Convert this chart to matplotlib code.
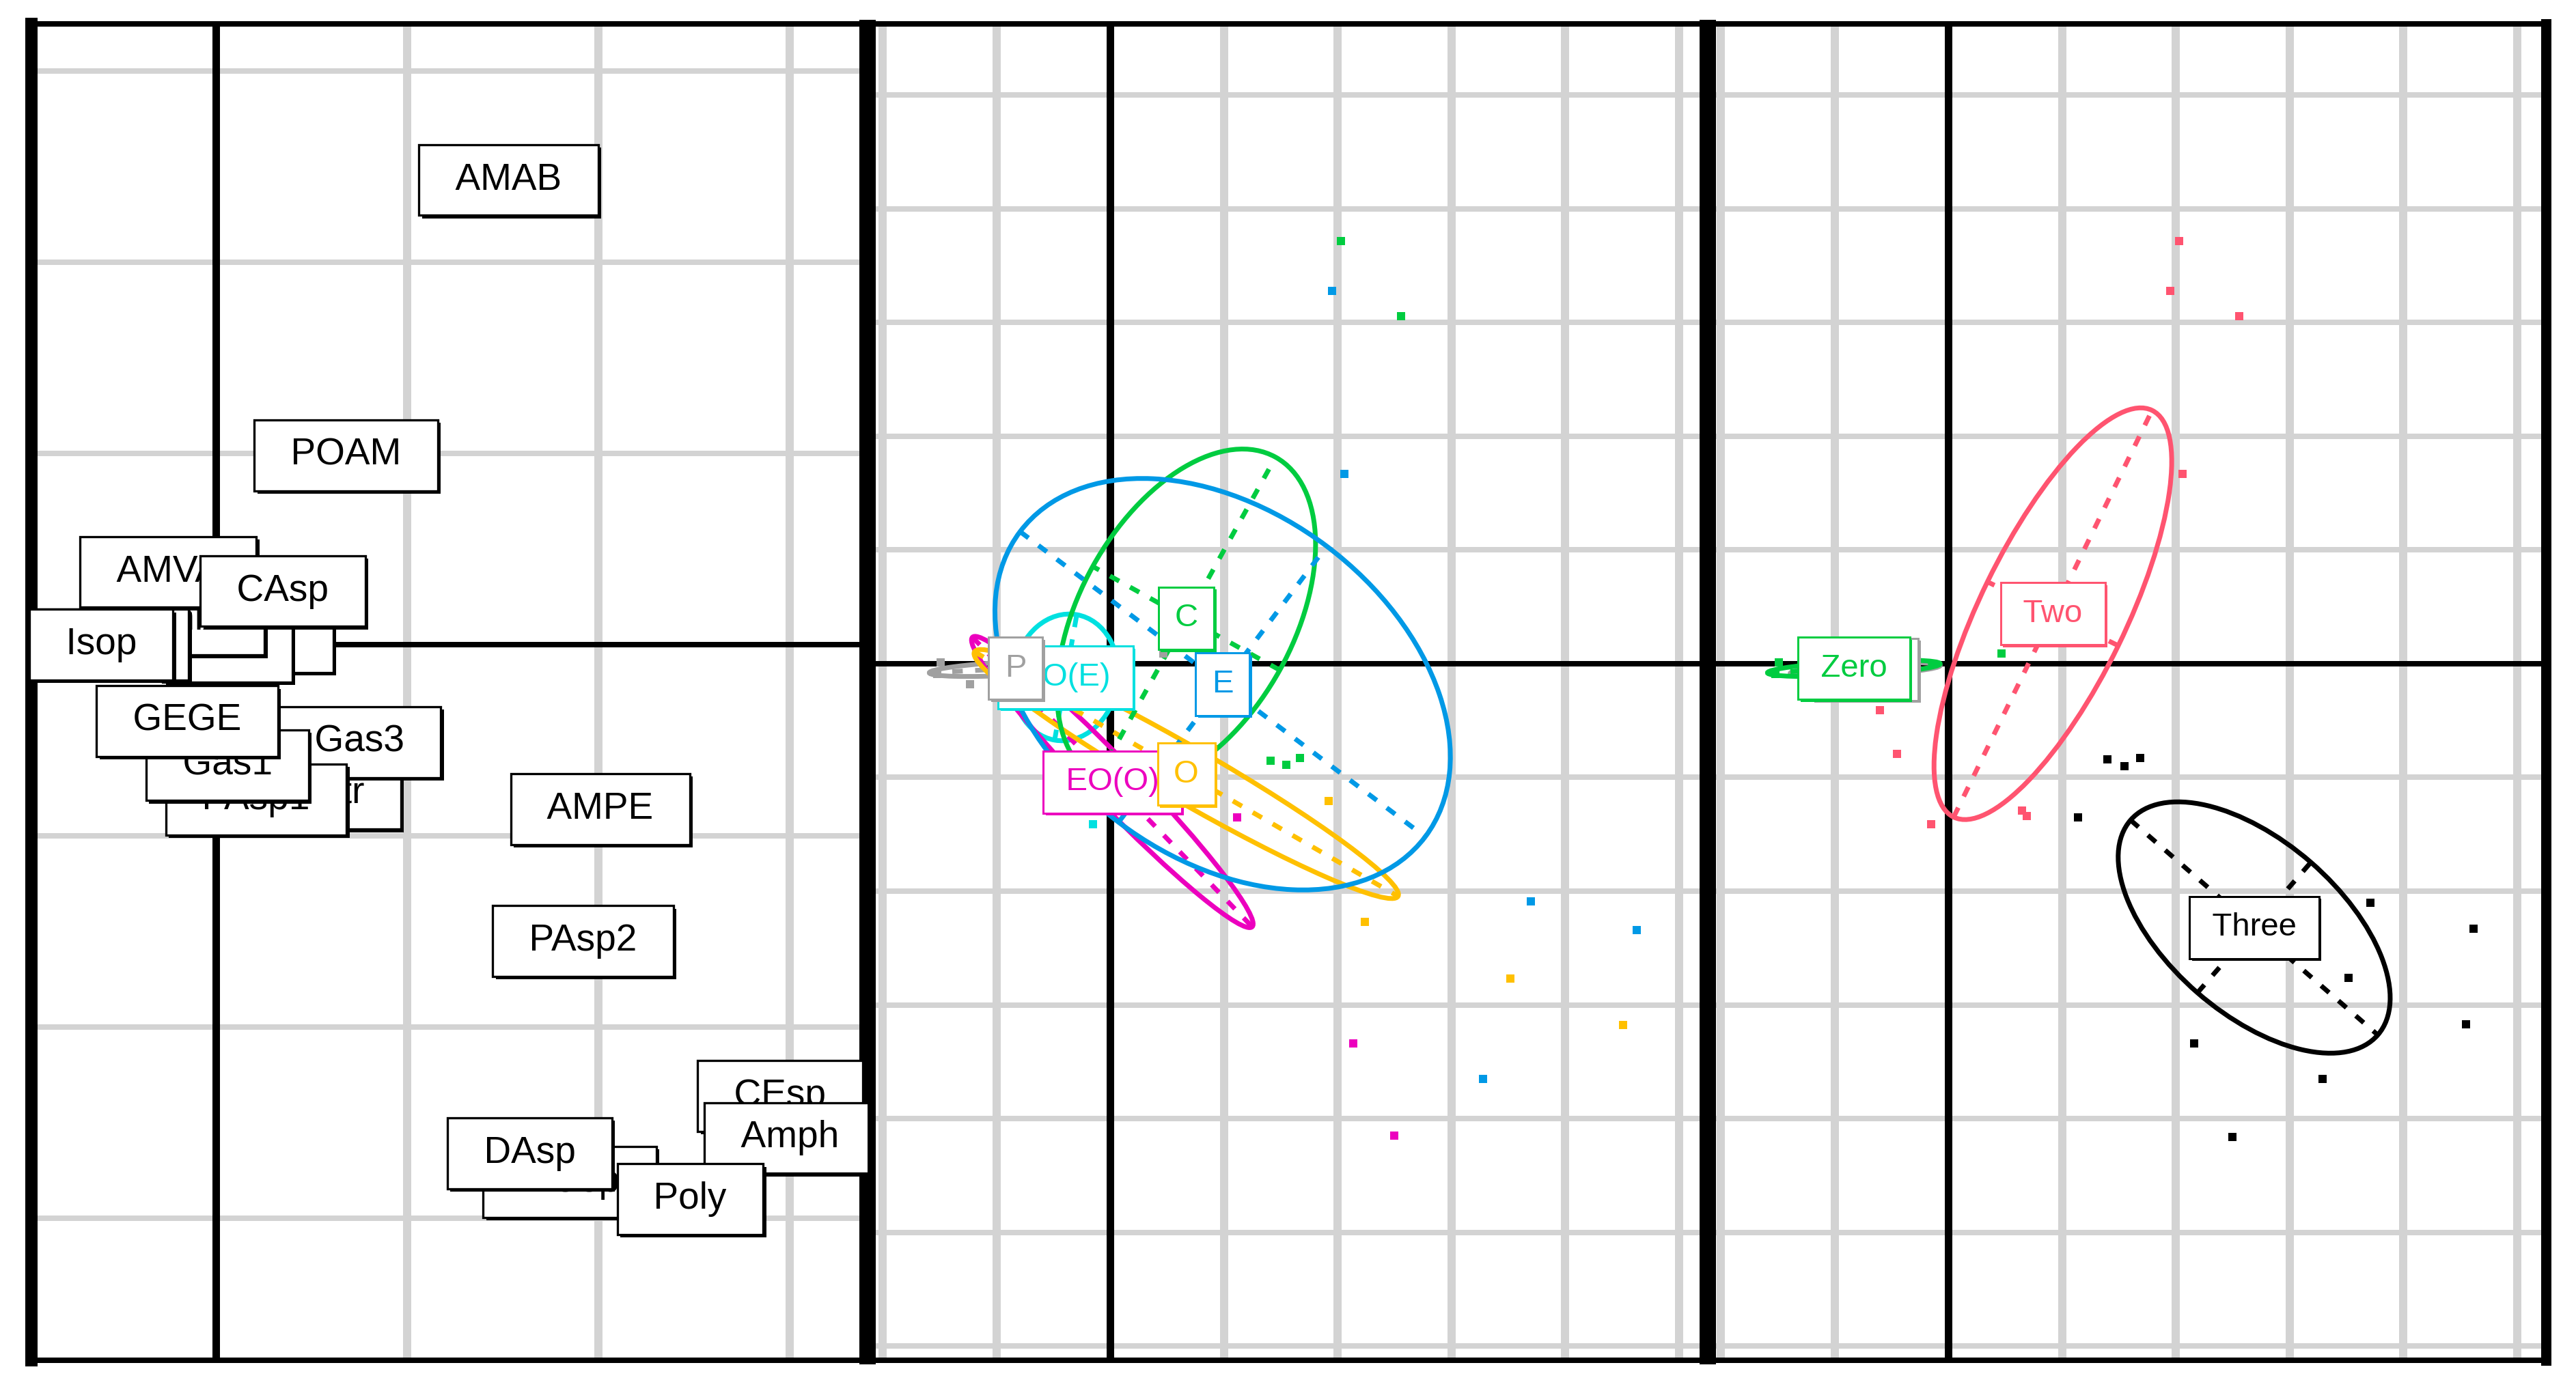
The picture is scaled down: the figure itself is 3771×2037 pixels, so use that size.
import numpy as np
import matplotlib.pyplot as plt
import matplotlib.patheffects as pe
from matplotlib.patches import Ellipse

plt.rcParams['font.family'] = ['Liberation Sans', 'DejaVu Sans']

# ---- left panel: taxa scores (drawing order, last on top) ----
taxa = ['Bival', 'Ant', 'ChiA', 'Hydr', 'AMVA', 'Isop', 'CAsp', 'POAM', 'AMAB',
        'Ostr', 'Gas3', 'PAsp1', 'Gas1', 'GEGE', 'AMPE', 'PAsp2',
        'MOsp', 'DAsp', 'CEsp', 'Amph', 'Poly']
taxa_x = [0.21, 0.06, -0.15, -0.54, -0.25, -0.60, 0.35, 0.68, 1.53,
          0.59, 0.75, 0.21, 0.06, -0.15, 2.01, 1.92,
          1.85, 1.64, 2.95, 3.00, 2.48]
taxa_y = [0.04, -0.01, 0.13, 0.00, 0.38, 0.00, 0.28, 0.99, 2.43,
          -0.78, -0.51, -0.81, -0.63, -0.40, -0.86, -1.55,
          -2.81, -2.66, -2.36, -2.58, -2.90]

# ---- middle panel: diet classes (drawing order) ----
diet = ['EO(E)', 'P', 'EO(O)', 'O', 'C', 'E']
diet_col = ['#00E0E0', '#A0A0A0', '#EC00BE', '#FFC000', '#00CC40', '#0099E6']
diet_x = [-0.39, -0.83, 0.02, 0.67, 0.67, 0.99]
diet_y = [-0.12, -0.04, -1.04, -0.97, 0.40, -0.18]
diet_a = [0.56, 0.76, 1.77, 2.15, 1.62, 2.23]
diet_b = [0.46, 0.06, 0.20, 0.24, 0.94, 1.52]
diet_ang = [80, 3, -46, -30, 61, -37]

p2_x = [2.03, 2.56, 1.41, 1.55, 1.67,
        1.95, 2.06, 3.70, 4.63, 3.28,
        1.92, 2.24, 3.52, 4.51,
        1.12, 2.14, 2.50,
        -0.15, 0.88,
        0.47, -1.52, -1.49, -1.23]
p2_y = [3.72, 3.06, -0.85, -0.89, -0.83,
        3.28, 1.67, -2.09, -2.34, -3.65,
        -1.21, -2.27, -2.77, -3.18,
        -1.35, -3.34, -4.15,
        -1.41, 0.58,
        0.09, -0.09, 0.01, -0.18]
p2_grp = ['C', 'C', 'C', 'C', 'C',
          'E', 'E', 'E', 'E', 'E',
          'O', 'O', 'O', 'O',
          'EO(O)', 'EO(O)', 'EO(O)',
          'EO(E)', 'EO(E)',
          'P', 'P', 'P', 'P']

# ---- right panel: rank classes ----
rank = ['One', 'Zero', 'Two', 'Three']
rank_col = ['#A0A0A0', '#00CC40', '#FF5470', '#000000']
rank_x = [-0.73, -0.83, 0.92, 2.69]
rank_y = [-0.05, -0.04, 0.44, -2.32]
rank_a = [0.66, 0.76, 1.99, 1.44]
rank_b = [0.05, 0.06, 0.64, 0.76]
rank_ang = [3, 3, 64, -41]

p3_x = [0.47, -1.52, -1.49, -1.23,
        2.03, 1.95, 2.56, 2.06, -0.60, -0.45, -0.15, 0.65, 0.69,
        1.40, 1.55, 1.69, 1.14, 3.71, 4.62, 3.52, 4.55, 2.16, 3.29, 2.50]
p3_y = [0.09, -0.09, 0.01, -0.18,
        3.72, 3.28, 3.06, 1.67, -0.41, -0.79, -1.41, -1.29, -1.34,
        -0.84, -0.90, -0.83, -1.35, -2.10, -2.33, -2.76, -3.17, -3.34, -3.65, -4.16]
p3_grp = ['Zero', 'Zero', 'Zero', 'Zero',
          'Two', 'Two', 'Two', 'Two', 'Two', 'Two', 'Two', 'Two', 'Two',
          'Three', 'Three', 'Three', 'Three', 'Three', 'Three', 'Three',
          'Three', 'Three', 'Three', 'Three']

W, H = 3771, 2037
TOP, BOT = 35, 1992
fig = plt.figure(figsize=(W / 100, H / 100), dpi=100)


def px(v):
    return v * 0.72


def panel(x0, x1, ox, oy, unit, lw_left, lw_right):
    ax = fig.add_axes([x0 / W, 1 - BOT / H, (x1 - x0) / W, (BOT - TOP) / H])
    ax.set_xlim((x0 - ox) / unit, (x1 - ox) / unit)
    ax.set_ylim((oy - BOT) / unit, (oy - TOP) / unit)
    ax.set_xticks([])
    ax.set_yticks([])
    for side, lw in zip(['left', 'right', 'top', 'bottom'], [lw_left, lw_right, 8, 8]):
        ax.spines[side].set_linewidth(px(lw))
        ax.spines[side].set_color('black')
        ax.spines[side].set_capstyle('projecting')
    xl, yl = ax.get_xlim(), ax.get_ylim()
    for v in np.arange(np.ceil(xl[0]), np.floor(xl[1]) + 1):
        if v != 0:
            ax.axvline(v, color='#D3D3D3', lw=px(12), zorder=0.5)
    for v in np.arange(np.ceil(yl[0]), np.floor(yl[1]) + 1):
        if v != 0:
            ax.axhline(v, color='#D3D3D3', lw=px(8), zorder=0.5)
    ax.axvline(0, color='black', lw=px(11), zorder=1)
    ax.axhline(0, color='black', lw=px(8), zorder=1)
    return ax


def boxed(ax, x, y, text, col, size, pad, edge, shadow, z, clip=True):
    t = ax.text(x, y, text, color=col, fontsize=size, ha='center', va='center',
                zorder=z, clip_on=clip,
                bbox=dict(boxstyle='square,pad=%.2f' % pad, fc='white', ec=col, lw=edge))
    t.get_bbox_patch().set_path_effects(
        [pe.SimplePatchShadow(offset=(shadow, -shadow), shadow_rgbFace=col, alpha=1.0),
         pe.Normal()])
    return t


def class_ellipse(ax, cx, cy, a, b, ang, col):
    ax.add_patch(Ellipse((cx, cy), 2 * a, 2 * b, angle=ang, fill=False,
                         ec=col, lw=px(7), zorder=2))
    t = np.deg2rad(ang)
    dashes = (0, (2.2, 2.6))
    ax.plot([cx - a * np.cos(t), cx + a * np.cos(t)],
            [cy - a * np.sin(t), cy + a * np.sin(t)],
            color=col, lw=px(7), ls=dashes, zorder=2)
    ax.plot([cx + b * np.sin(t), cx - b * np.sin(t)],
            [cy - b * np.cos(t), cy + b * np.cos(t)],
            color=col, lw=px(7), ls=dashes, zorder=2)


# left panel
ax1 = panel(46, 1264, 316, 944, 280, 18, 12)
for i, name in enumerate(taxa):
    boxed(ax1, taxa_x[i], taxa_y[i], '\u2002' + name + '\u2002', 'black',
          39.6, 0.47, px(3.3), px(4.5), 3 + i * 0.01, clip=False)


def class_panel(ax, names, cols, cx, cy, ca, cb, cang, xs, ys, grp):
    for i, name in enumerate(names):
        class_ellipse(ax, cx[i], cy[i], ca[i], cb[i], cang[i], cols[i])
    for i, name in enumerate(names):
        sel = [k for k, g in enumerate(grp) if g == name]
        ax.plot([xs[k] for k in sel], [ys[k] for k in sel], 's', color=cols[i],
                ms=8.5, mew=0, zorder=2.2)
    for i, name in enumerate(names):
        label = name if len(name) == 1 else '\u2009' + name + '\u2009'
        boxed(ax, cx[i], cy[i], label, cols[i], 34, 0.5, px(3), px(3.5), 3 + i * 0.01)


ax2 = panel(1276, 2494, 1625, 972, 166.5, 12, 12)
class_panel(ax2, diet, diet_col, diet_x, diet_y, diet_a, diet_b, diet_ang,
            p2_x, p2_y, p2_grp)

ax3 = panel(2506, 3727, 2852, 972, 166.5, 12, 15)
class_panel(ax3, rank, rank_col, rank_x, rank_y, rank_a, rank_b, rank_ang,
            p3_x, p3_y, p3_grp)

fig.savefig('out.png', dpi=100)
